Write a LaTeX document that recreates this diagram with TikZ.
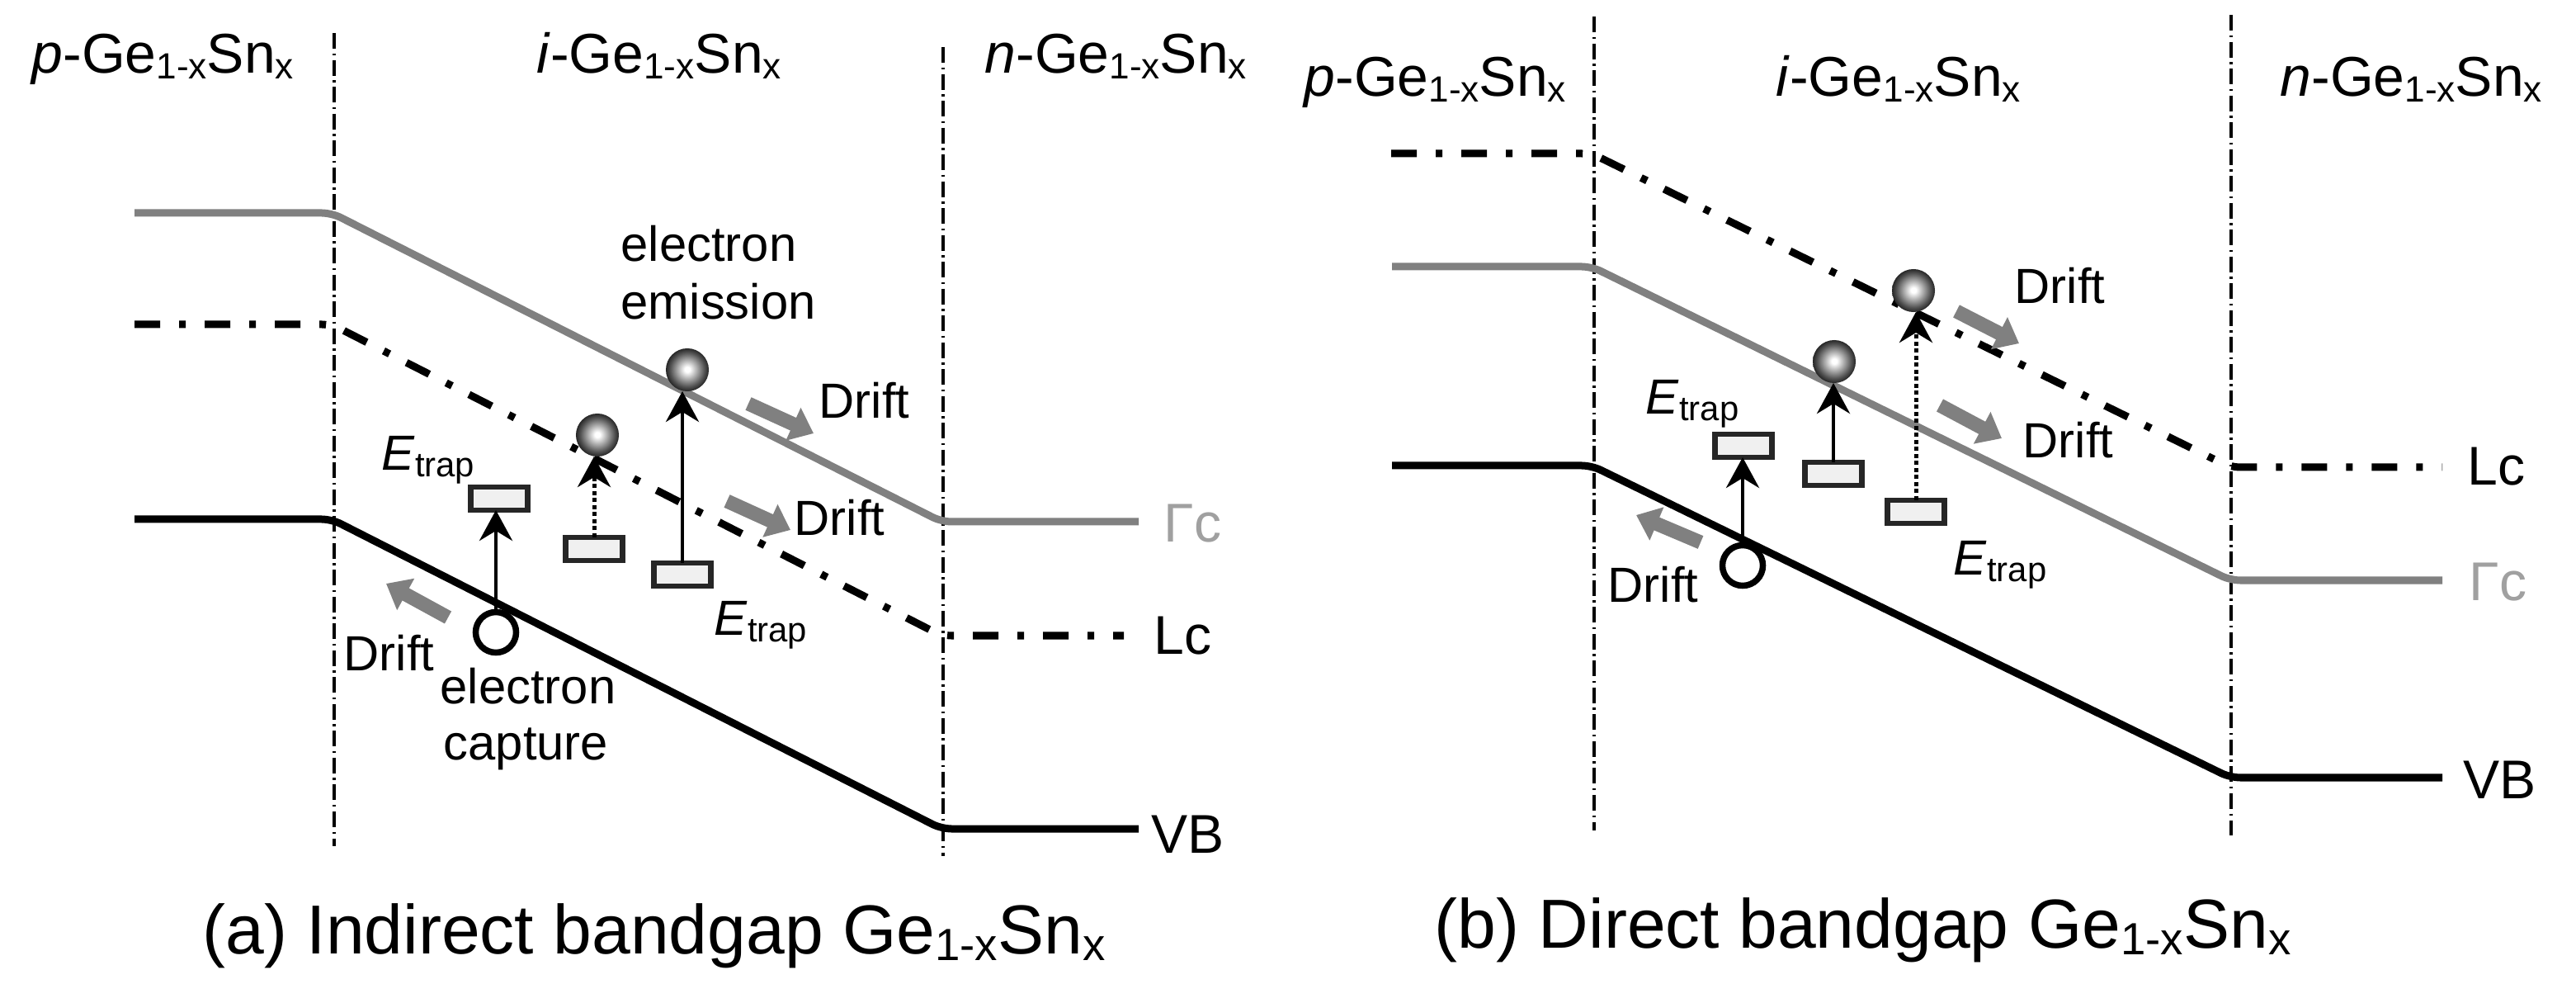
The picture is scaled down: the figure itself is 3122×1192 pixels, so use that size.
\documentclass[tikz,border=0pt]{standalone}
\usepackage{fontspec}
\setmainfont{Liberation Sans}
\usepackage{graphicx}
\usetikzlibrary{arrows.meta}
\definecolor{gline}{HTML}{808080}
\definecolor{glabel}{HTML}{A0A0A0}
\definecolor{trapfill}{HTML}{F0F0F0}
\definecolor{trapedge}{HTML}{262626}
\pgfdeclareradialshading{eballshade}{\pgfpoint{0bp}{0.5bp}}{color(0bp)=(white); color(3bp)=(white); color(13bp)=(black!40); color(20bp)=(black!68); color(25bp)=(black!85); color(50bp)=(black!85)}
\newcommand{\GeSn}{Ge\raisebox{-0.1em}{\scalebox{0.65}{1-x}}Sn\raisebox{-0.1em}{\scalebox{0.65}{x}}}
\newcommand{\Etrap}{\textit{E}\raisebox{-0.12em}{\scalebox{0.7}{trap}}}
\begin{document}
\begin{tikzpicture}[x=0.01cm, y=-0.01cm,
  vline/.style={black, line width=0.035cm, dash pattern=on 0.19cm off 0.055cm on 0.025cm off 0.055cm},
  gband/.style={gline, line width=0.09cm, rounded corners=0.12cm},
  kband/.style={black, line width=0.09cm, rounded corners=0.12cm},
  lband/.style={black, line width=0.09cm, rounded corners=0.12cm, dash pattern=on 0.31cm off 0.23cm on 0.08cm off 0.23cm},
  trap/.style={draw=trapedge, fill=trapfill, line width=0.065cm, minimum width=0.69cm, minimum height=0.28cm, inner sep=0, outer sep=0},
  hole/.style={draw=black, line width=0.075cm, fill=white, circle, minimum size=0.49cm, inner sep=0, outer sep=0},
  elec/.style={circle, shade, shading=eballshade, minimum size=0.52cm, inner sep=0, outer sep=0},
  uparr/.style={line width=0.045cm, -{Stealth[length=0.37cm, width=0.40cm, inset=0.12cm]}},
  updot/.style={uparr, line width=0.05cm, dash pattern=on 0.05cm off 0.035cm},
  drift/.style={gline, line width=0.17cm, -{Triangle[length=0.27cm, width=0.42cm]}},
  hdr/.style={anchor=base west, inner sep=0, font=\fontsize{19.3}{23}\selectfont},
  blbl/.style={anchor=base west, inner sep=0, font=\fontsize{18.8}{22}\selectfont},
  lbl/.style={anchor=base west, inner sep=0, font=\fontsize{17}{20}\selectfont},
  capt/.style={anchor=base west, inner sep=0, font=\fontsize{23.9}{28}\selectfont}
]
\useasboundingbox (0,0) rectangle (3122,1192);
\fill[white] (0,0) rectangle (3122,1192);

% ---------------- panel (a) ----------------
\draw[vline] (405,40) -- (405,1025);
\draw[vline] (1143,57) -- (1143,1037);
\draw[gband] (163,258) -- (402,258) -- (1141,632) -- (1380,632);
\draw[lband] (163,393) -- (402,393) -- (1141,770) -- (1362,770);
\draw[kband] (163,629) -- (402,629) -- (1141,1004) -- (1380,1004);

\node[hdr] (ha1) at (38,89) {\textit{p}-\GeSn};
\node[hdr] (ha2) at (650,89) {\textit{i}-\GeSn};
\node[hdr] (ha3) at (1193,89) {\textit{n}-\GeSn};

\node[blbl, text=glabel] (gca) at (1410,657) {Γc};
\node[blbl] (lca) at (1398,792) {Lc};
\node[blbl] (vba) at (1395,1033) {VB};

\node[trap] (trA1) at (605,604) {};
\node[trap] (trA2) at (720,665) {};
\node[trap] (trA3) at (827,696) {};
\node[hole] (hoA) at (601,766) {};
\node[elec] (elA2) at (724,527) {};
\node[elec] (elA3) at (833,448) {};

\draw[uparr] (hoA.north) -- (hoA.north |- trA1.south);
\draw[updot] (trA2.north) -- (trA2.north |- elA2.south);
\draw[uparr] (trA3.north) -- (trA3.north |- elA3.south);

\coordinate (dA1s) at (907,489); \coordinate (dA1e) at (986,525);
\coordinate (dA2s) at (881,607); \coordinate (dA2e) at (958,642);
\coordinate (dA3s) at (543,748); \coordinate (dA3e) at (468,707);
\draw[drift] (dA1s) -- (dA1e);
\draw[drift] (dA2s) -- (dA2e);
\draw[drift] (dA3s) -- (dA3e);

\node[lbl] (tdA1) at (992,507) {Drift};
\node[lbl] (tdA2) at (962,649) {Drift};
\node[lbl] (tdA3) at (416,812) {Drift};
\node[lbl] (etA1) at (462,570) {\Etrap};
\node[lbl] (etA2) at (865,770) {\Etrap};
\node[lbl] (emA1) at (752,317) {electron};
\node[lbl] (emA2) at (752,387) {emission};
\node[lbl] (caA1) at (533,853) {electron};
\node[lbl] (caA2) at (537,920) {capture};

\node[capt] (capA) at (245,1155) {(a) Indirect bandgap \GeSn};

% ---------------- panel (b) ----------------
\draw[vline] (1932,20) -- (1932,1006);
\draw[vline] (2704,18) -- (2704,1012);
\draw[lband] (1686,186) -- (1929,186) -- (2703,566) -- (2960,566);
\draw[gband] (1687,323) -- (1929,323) -- (2703,703) -- (2960,703);
\draw[kband] (1687,564) -- (1929,564) -- (2703,942) -- (2960,942);

\node[hdr] (hb1) at (1580,117) {\textit{p}-\GeSn};
\node[hdr] (hb2) at (2152,117) {\textit{i}-\GeSn};
\node[hdr] (hb3) at (2763,117) {\textit{n}-\GeSn};

\node[blbl] (lcb) at (2990,588) {Lc};
\node[blbl, text=glabel] (gcb) at (2992,728) {Γc};
\node[blbl] (vbb) at (2985,967) {VB};

\node[trap] (trB1) at (2113,540) {};
\node[trap] (trB2) at (2222,574) {};
\node[trap] (trB3) at (2322,620) {};
\node[hole] (hoB) at (2112,685) {};
\node[elec] (elB2) at (2223,438) {};
\node[elec] (elB3) at (2319,352) {};

\draw[uparr] (hoB.north) -- (hoB.north |- trB1.south);
\draw[uparr] (trB2.north) -- (trB2.north |- elB2.south);
\draw[updot] (trB3.north) -- (trB3.north |- elB3.south);

\coordinate (dB1s) at (2371,377); \coordinate (dB1e) at (2447,416);
\coordinate (dB2s) at (2351,491); \coordinate (dB2e) at (2426,531);
\coordinate (dB3s) at (2061,657); \coordinate (dB3e) at (1983,624);
\draw[drift] (dB1s) -- (dB1e);
\draw[drift] (dB2s) -- (dB2e);
\draw[drift] (dB3s) -- (dB3e);

\node[lbl] (tdB1) at (2441,368) {Drift};
\node[lbl] (tdB2) at (2451,555) {Drift};
\node[lbl] (tdB3) at (1948,730) {Drift};
\node[lbl] (etB1) at (1994,502) {\Etrap};
\node[lbl] (etB2) at (2367,697) {\Etrap};

\node[capt] (capB) at (1738,1148) {(b) Direct bandgap \GeSn};
\end{tikzpicture}
\end{document}
